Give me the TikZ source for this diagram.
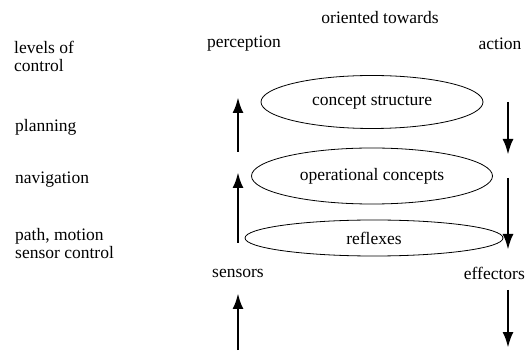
\documentclass[tikz,border=0pt]{standalone}
\usepackage{fontspec}
\setmainfont{Liberation Serif}
\newfontfamily\labelfont{Liberation Serif}
\usetikzlibrary{positioning,arrows.meta,shapes.geometric}

\begin{document}
\begin{tikzpicture}[x=1pt,y=1pt,
    txt/.style={inner sep=0pt,font=\labelfont\fontsize{17.5}{18}\selectfont},
    lvl/.style={txt,anchor=west,align=left},
    oval/.style={ellipse,draw,line width=0.8pt,inner sep=0pt,font=\labelfont\fontsize{17.5}{18}\selectfont},
    flow/.style={-{Latex[length=16pt,width=11pt]},line width=2.8pt}]

    \useasboundingbox (0,0) rectangle (526,350);

    %--------------------------------------------
    % Headings
    \node[txt] (oriented) at (380,332) {oriented towards};
    \node[txt] (percep) at (244,306) {perception};
    \node[txt] (action) at (500,306) {action};

    %--------------------------------------------
    % Levels of control
    \node[lvl] (levels) at (14,294) {levels of\\control};
    \node[lvl] (planning) at (15,223) {planning};
    \node[lvl] (navigation) at (15,170) {navigation};
    \node[lvl] (pathctl) at (15,106) {path, motion\\sensor control};

    %--------------------------------------------
    % Ovals
    \node[oval,minimum width=222,minimum height=53] (concept) at (372,248) {concept structure};
    \node[oval,minimum width=241,minimum height=56] (operational) at (372,174) {operational concepts};
    \node[oval,minimum width=258,minimum height=36] (reflexes) at (374,112) {reflexes};

    %--------------------------------------------
    % Sensors and effectors
    \node[txt] (sensors) at (238,77) {sensors};
    \node[txt,anchor=east] (effectors) at (525,77) {effectors};

    %--------------------------------------------
    % Arrow ends
    \coordinate (s1) at (238,0);
    \coordinate (s2) at (238,57);
    \coordinate (p1) at (238,107);
    \coordinate (p2) at (238,178);
    \coordinate (p3) at (238,198);
    \coordinate (p4) at (238,253);
    \coordinate (a1) at (508,248);
    \coordinate (a2) at (508,195);
    \coordinate (a3) at (508,172);
    \coordinate (a4) at (508,100);
    \coordinate (e1) at (508,60);
    \coordinate (e2) at (508,2);

    %--------------------------------------------
    % Arrows
    \draw[flow] (s1) -- (s2);
    \draw[flow] (p1) -- (p2);
    \draw[flow] (p3) -- (p4);
    \draw[flow] (a1) -- (a2);
    \draw[flow] (a3) -- (a4);
    \draw[flow] (e1) -- (e2);
\end{tikzpicture}
\end{document}
